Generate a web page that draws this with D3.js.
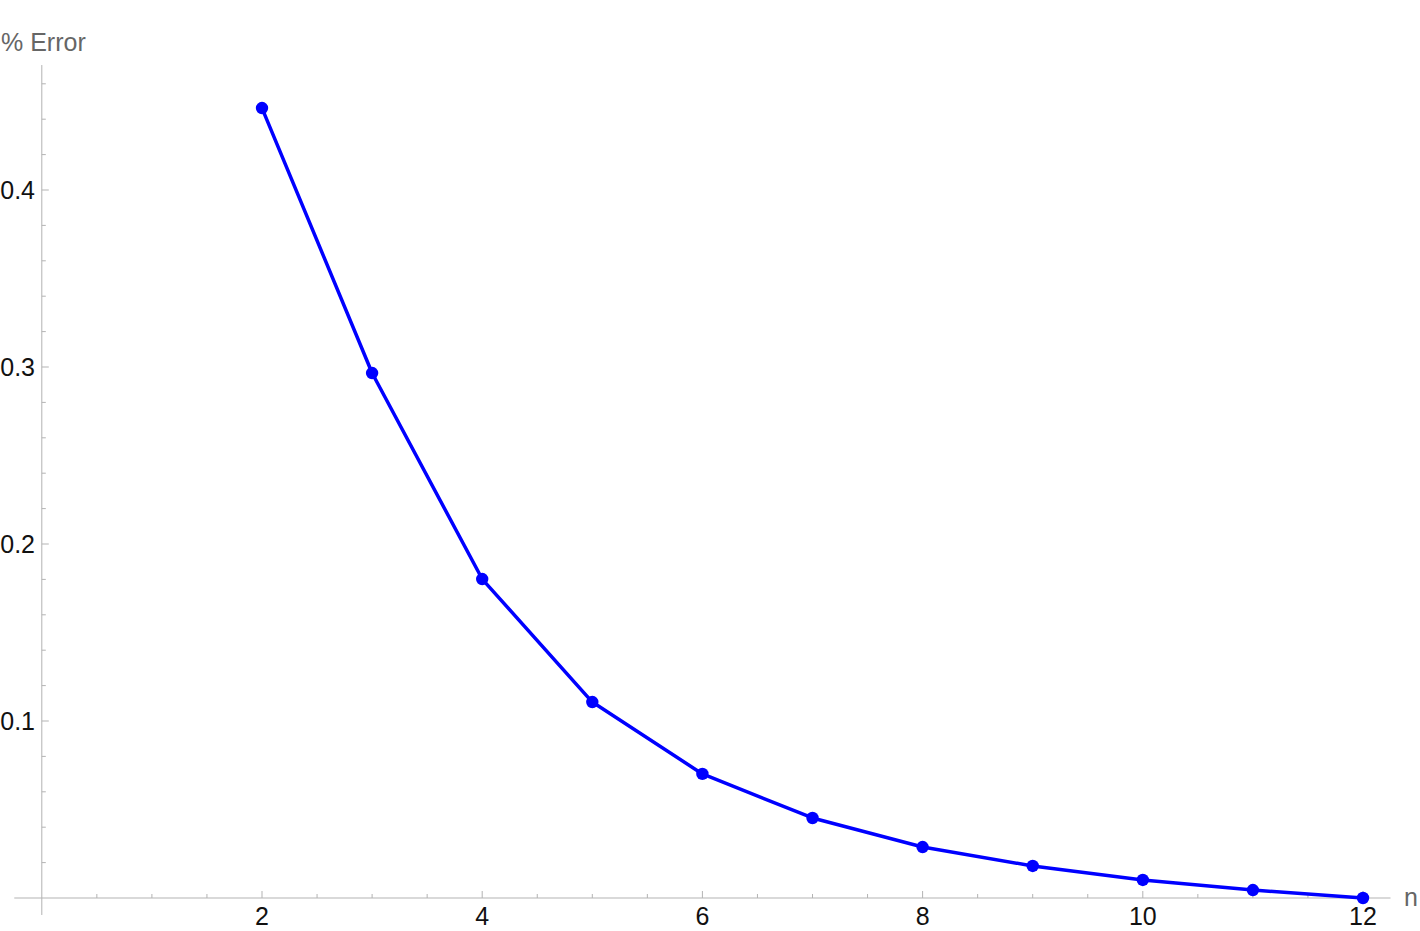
<!DOCTYPE html>
<html>
<head>
<meta charset="utf-8">
<script src="https://cdn.jsdelivr.net/npm/d3@7"></script>
<style>
  body { margin: 0; background: #fff; }
  svg { display: block; font-family: 'Liberation Sans', Arial, sans-serif; }
</style>
</head>
<body>
<svg class="chart"></svg>
<script>
// % error per n
const nValues = [2, 3, 4, 5, 6, 7, 8, 9, 10, 11, 12]
const errorValues = [0.4463, 0.2966, 0.1802, 0.1107, 0.0701, 0.0452, 0.0288, 0.0181, 0.0102, 0.0045, 0.0]
const xMajorTicks = [2, 4, 6, 8, 10, 12]
const yMajorTicks = [0.1, 0.2, 0.3, 0.4]

const width = 1420
const height = 931

const x = d3.scaleLinear().domain([0, 12]).range([41.8, 1363])
const y = d3.scaleLinear().domain([0, 0.4]).range([898, 190])

const axisColor = '#b3b3b3'

const chart = d3.select('.chart')
  .attr('width', width)
  .attr('height', height)

// axis lines
chart.append('line')
  .attr('x1', x(-0.25)).attr('x2', x(12.25))
  .attr('y1', y(0)).attr('y2', y(0))
  .attr('stroke', axisColor).attr('stroke-width', 1)

chart.append('line')
  .attr('x1', x(0)).attr('x2', x(0))
  .attr('y1', y(-0.0096)).attr('y2', y(0.4706))
  .attr('stroke', axisColor).attr('stroke-width', 1)

// x ticks: minor every 0.5, major at the labelled values
const xMinor = d3.range(0.5, 12.01, 0.5)
chart.append('g').selectAll('line')
  .data(xMinor)
  .enter()
  .append('line')
  .attr('x1', d => x(d)).attr('x2', d => x(d))
  .attr('y1', y(0))
  .attr('y2', d => y(0) - (xMajorTicks.includes(d) ? 7 : 4))
  .attr('stroke', axisColor)

chart.append('g').selectAll('text')
  .data(xMajorTicks)
  .enter()
  .append('text')
  .attr('x', d => x(d))
  .attr('y', 925)
  .attr('text-anchor', 'middle')
  .attr('font-size', 25)
  .attr('fill', '#111')
  .text(d => d)

// y ticks: minor every 0.02
const yMinor = d3.range(1, 24).map(i => i * 0.02)
chart.append('g').selectAll('line')
  .data(yMinor)
  .enter()
  .append('line')
  .attr('x1', x(0))
  .attr('x2', d => x(0) + (yMajorTicks.some(t => Math.abs(t - d) < 1e-9) ? 7 : 4))
  .attr('y1', d => y(d)).attr('y2', d => y(d))
  .attr('stroke', axisColor)

chart.append('g').selectAll('text')
  .data(yMajorTicks)
  .enter()
  .append('text')
  .attr('x', 35)
  .attr('y', d => y(d) + 9)
  .attr('text-anchor', 'end')
  .attr('font-size', 25)
  .attr('fill', '#111')
  .text(d => d3.format('.1f')(d))

// axis labels
chart.append('text')
  .attr('x', 1)
  .attr('y', 51)
  .attr('font-size', 25)
  .attr('fill', '#666')
  .text('% Error')

chart.append('text')
  .attr('x', 1404)
  .attr('y', 906)
  .attr('font-size', 25)
  .attr('fill', '#666')
  .text('n')

// series
const points = nValues.map((n, i) => [n, errorValues[i]])

chart.append('path')
  .datum(points)
  .attr('fill', 'none')
  .attr('stroke', '#0000ff')
  .attr('stroke-width', 3.5)
  .attr('stroke-linejoin', 'round')
  .attr('d', d3.line().x(d => x(d[0])).y(d => y(d[1])))

chart.append('g').selectAll('circle')
  .data(points)
  .enter()
  .append('circle')
  .attr('cx', d => x(d[0]))
  .attr('cy', d => y(d[1]))
  .attr('r', 6.2)
  .attr('fill', '#0000ff')
</script>
</body>
</html>
